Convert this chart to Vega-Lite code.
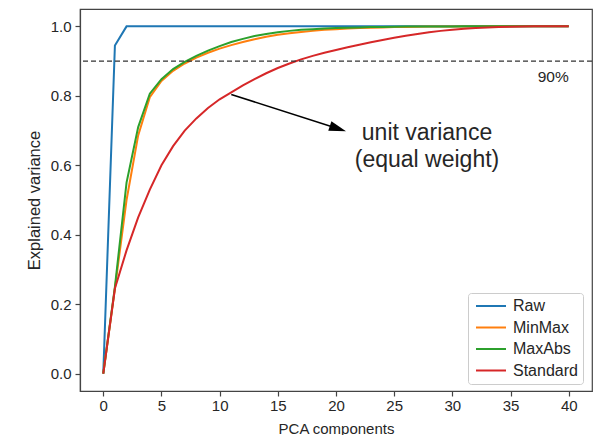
{
  "$schema": "https://vega.github.io/schema/vega-lite/v6.json",
  "autosize": {"type": "none"},
  "padding": {"left": 80, "top": 9, "right": 8, "bottom": 44},
  "width": 512,
  "height": 382,
  "background": "white",
  "config": {
    "view": {"stroke": "#444", "strokeWidth": 1.2},
    "font": "Liberation Sans",
    "axis": {
      "grid": false,
      "domainColor": "#444",
      "domainWidth": 1.2,
      "tickColor": "#444",
      "tickWidth": 1.2,
      "tickSize": 5,
      "labelFont": "Liberation Sans",
      "labelFontSize": 15,
      "labelColor": "#262626",
      "titleFont": "Liberation Sans",
      "titleFontSize": 15,
      "titleFontWeight": "normal",
      "titleColor": "#262626"
    },
    "legend": {
      "labelFont": "Liberation Sans",
      "labelFontSize": 16,
      "labelColor": "#262626"
    }
  },
  "layer": [
    {
      "data": {
        "values": [
          {"pc": 0, "Raw": 0, "MinMax": 0, "MaxAbs": 0, "Standard": 0},
          {"pc": 1, "Raw": 0.945, "MinMax": 0.245, "MaxAbs": 0.25, "Standard": 0.245},
          {"pc": 2, "Raw": 1, "MinMax": 0.5, "MaxAbs": 0.55, "Standard": 0.355},
          {"pc": 3, "Raw": 1, "MinMax": 0.686, "MaxAbs": 0.71, "Standard": 0.45},
          {"pc": 4, "Raw": 1, "MinMax": 0.796, "MaxAbs": 0.806, "Standard": 0.53},
          {"pc": 5, "Raw": 1, "MinMax": 0.843, "MaxAbs": 0.848, "Standard": 0.6},
          {"pc": 6, "Raw": 1, "MinMax": 0.872, "MaxAbs": 0.877, "Standard": 0.655},
          {"pc": 7, "Raw": 1, "MinMax": 0.893, "MaxAbs": 0.898, "Standard": 0.7},
          {"pc": 8, "Raw": 1, "MinMax": 0.91, "MaxAbs": 0.915, "Standard": 0.735},
          {"pc": 9, "Raw": 1, "MinMax": 0.924, "MaxAbs": 0.93, "Standard": 0.765},
          {"pc": 10, "Raw": 1, "MinMax": 0.936, "MaxAbs": 0.943, "Standard": 0.79},
          {"pc": 11, "Raw": 1, "MinMax": 0.946, "MaxAbs": 0.955, "Standard": 0.81},
          {"pc": 12, "Raw": 1, "MinMax": 0.955, "MaxAbs": 0.964, "Standard": 0.83},
          {"pc": 13, "Raw": 1, "MinMax": 0.963, "MaxAbs": 0.972, "Standard": 0.848},
          {"pc": 14, "Raw": 1, "MinMax": 0.97, "MaxAbs": 0.978, "Standard": 0.865},
          {"pc": 15, "Raw": 1, "MinMax": 0.976, "MaxAbs": 0.983, "Standard": 0.88},
          {"pc": 16, "Raw": 1, "MinMax": 0.98, "MaxAbs": 0.987, "Standard": 0.893},
          {"pc": 17, "Raw": 1, "MinMax": 0.984, "MaxAbs": 0.99, "Standard": 0.905},
          {"pc": 18, "Raw": 1, "MinMax": 0.987, "MaxAbs": 0.992, "Standard": 0.915},
          {"pc": 19, "Raw": 1, "MinMax": 0.99, "MaxAbs": 0.994, "Standard": 0.924},
          {"pc": 20, "Raw": 1, "MinMax": 0.992, "MaxAbs": 0.995, "Standard": 0.932},
          {"pc": 21, "Raw": 1, "MinMax": 0.994, "MaxAbs": 0.996, "Standard": 0.94},
          {"pc": 22, "Raw": 1, "MinMax": 0.995, "MaxAbs": 0.997, "Standard": 0.947},
          {"pc": 23, "Raw": 1, "MinMax": 0.996, "MaxAbs": 0.998, "Standard": 0.954},
          {"pc": 24, "Raw": 1, "MinMax": 0.997, "MaxAbs": 0.9985, "Standard": 0.961},
          {"pc": 25, "Raw": 1, "MinMax": 0.998, "MaxAbs": 0.999, "Standard": 0.967},
          {"pc": 26, "Raw": 1, "MinMax": 0.9985, "MaxAbs": 0.9993, "Standard": 0.973},
          {"pc": 27, "Raw": 1, "MinMax": 0.999, "MaxAbs": 0.9995, "Standard": 0.978},
          {"pc": 28, "Raw": 1, "MinMax": 0.9993, "MaxAbs": 0.9997, "Standard": 0.983},
          {"pc": 29, "Raw": 1, "MinMax": 0.9995, "MaxAbs": 0.9998, "Standard": 0.987},
          {"pc": 30, "Raw": 1, "MinMax": 0.9997, "MaxAbs": 0.9999, "Standard": 0.99},
          {"pc": 31, "Raw": 1, "MinMax": 0.9998, "MaxAbs": 1, "Standard": 0.993},
          {"pc": 32, "Raw": 1, "MinMax": 0.9999, "MaxAbs": 1, "Standard": 0.995},
          {"pc": 33, "Raw": 1, "MinMax": 1, "MaxAbs": 1, "Standard": 0.997},
          {"pc": 34, "Raw": 1, "MinMax": 1, "MaxAbs": 1, "Standard": 0.998},
          {"pc": 35, "Raw": 1, "MinMax": 1, "MaxAbs": 1, "Standard": 0.999},
          {"pc": 36, "Raw": 1, "MinMax": 1, "MaxAbs": 1, "Standard": 0.9995},
          {"pc": 37, "Raw": 1, "MinMax": 1, "MaxAbs": 1, "Standard": 1},
          {"pc": 38, "Raw": 1, "MinMax": 1, "MaxAbs": 1, "Standard": 1},
          {"pc": 39, "Raw": 1, "MinMax": 1, "MaxAbs": 1, "Standard": 1},
          {"pc": 40, "Raw": 1, "MinMax": 1, "MaxAbs": 1, "Standard": 1}
        ]
      },
      "transform": [{"fold": ["Raw", "MinMax", "MaxAbs", "Standard"], "as": ["scaler", "variance"]}],
      "mark": {"type": "line", "strokeWidth": 2},
      "encoding": {
        "x": {
          "field": "pc", "type": "quantitative", "title": "PCA components",
          "scale": {"domain": [-2, 42], "nice": false, "zero": false},
          "axis": {"values": [0, 5, 10, 15, 20, 25, 30, 35, 40], "labelPadding": 2, "titlePadding": 8}
        },
        "y": {
          "field": "variance", "type": "quantitative", "title": "Explained variance",
          "scale": {"domain": [-0.05, 1.05], "nice": false, "zero": false},
          "axis": {"values": [0, 0.2, 0.4, 0.6, 0.8, 1.0], "format": ".1f", "labelPadding": 4, "titlePadding": 8, "titleFontSize": 16.5}
        },
        "color": {
          "field": "scaler", "type": "nominal",
          "scale": {"domain": ["Raw", "MinMax", "MaxAbs", "Standard"], "range": ["#1f77b4", "#ff7f0e", "#2ca02c", "#d62728"]},
          "legend": {
            "title": null,
            "orient": "none",
            "legendX": 388,
            "legendY": 284,
            "padding": 5,
            "fillColor": "white",
            "strokeColor": "#cccccc",
            "cornerRadius": 3,
            "symbolType": "M -1 0 L 5 0",
            "symbolSize": 100,
            "symbolStrokeWidth": 2,
            "labelOffset": 24,
            "rowPadding": 5.5
          }
        }
      }
    },
    {
      "data": {"values": [{}]},
      "mark": {"type": "rule", "color": "#333", "strokeWidth": 1.3, "strokeDash": [5, 3]},
      "encoding": {"y": {"datum": 0.9}}
    },
    {
      "data": {"values": [{}]},
      "mark": {"type": "text", "text": "90%", "align": "right", "baseline": "alphabetic", "font": "Liberation Sans", "fontSize": 15.5, "color": "#262626"},
      "encoding": {"x": {"datum": 40}, "y": {"datum": 0.84}}
    },
    {
      "data": {"values": [{}]},
      "mark": {"type": "rule", "color": "black", "strokeWidth": 1.5},
      "encoding": {"x": {"datum": 11}, "y": {"datum": 0.804}, "x2": {"datum": 20.2}, "y2": {"datum": 0.705}}
    },
    {
      "data": {"values": [{}]},
      "mark": {"type": "point", "shape": "M 0 0 L -1 -0.3 L -1 0.3 Z", "size": 1156, "angle": 18, "filled": true, "color": "black", "opacity": 1},
      "encoding": {"x": {"datum": 20.86}, "y": {"datum": 0.698}}
    },
    {
      "data": {"values": [{}]},
      "mark": {"type": "text", "text": ["unit variance", "(equal weight)"], "align": "center", "baseline": "alphabetic", "font": "Liberation Sans", "fontSize": 23, "lineHeight": 27, "color": "#262626"},
      "encoding": {"x": {"datum": 27.82}, "y": {"datum": 0.672}}
    }
  ]
}
